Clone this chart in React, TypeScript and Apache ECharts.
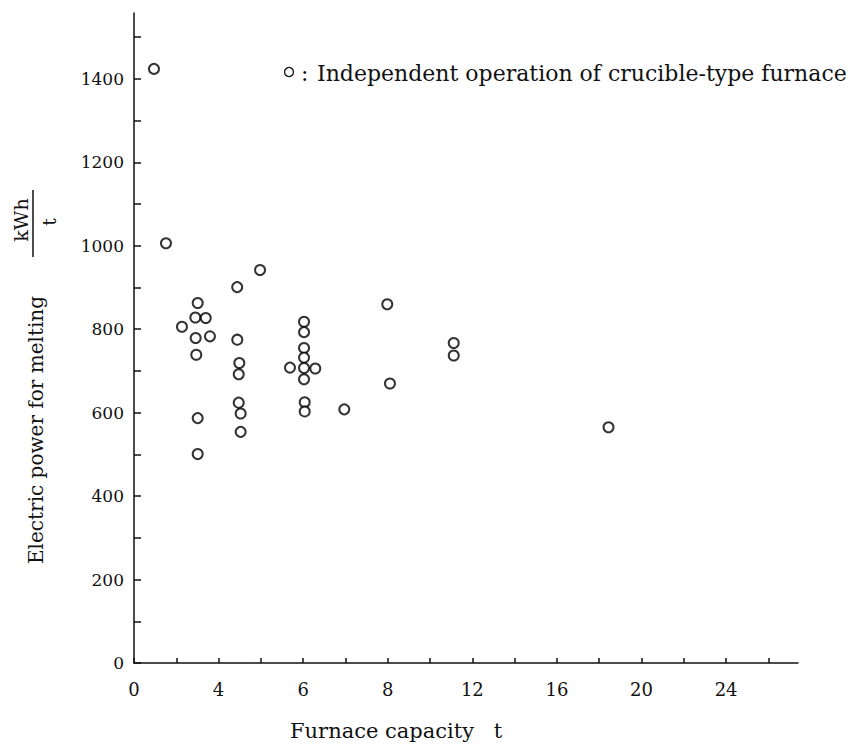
import React, { useEffect, useRef } from "react";
import * as echarts from "echarts";

// x positions are expressed in tick-label index units (0 => "0", 1 => "4", 2 => "6", ...)
const xTickLabels = ["0", "4", "6", "8", "12", "16", "20", "24"];

const capacityPos = [
  0.236, 0.378, 1.49, 1.22, 0.753, 0.725, 0.848, 0.567, 0.729, 0.898,
  0.736, 1.221, 1.245, 1.238, 1.238, 1.261, 1.261, 0.753, 0.753,
  2.01, 2.01, 2.01, 2.01, 2.01, 1.844, 2.143, 2.01, 2.018, 2.018,
  2.486, 2.994, 3.026, 3.78, 3.78, 5.61,
];
const powerValues = [
  1424, 1006, 942, 901, 863, 828, 827, 806, 779, 783,
  739, 775, 719, 692, 624, 598, 554, 587, 501,
  818, 793, 755, 732, 707, 708, 706, 680, 625, 603,
  608, 860, 670, 767, 737, 565,
];

const legendText = "Independent operation of crucible-type furnace";
const yAxisTitle = "Electric power for melting";
const xAxisTitle = "Furnace capacity";
const unitTop = "kWh";
const unitBottom = "t";

const SERIF = '"DejaVu Serif", "Liberation Serif", serif';

export default function App() {
  const ref = useRef<HTMLDivElement>(null);
  useEffect(() => {
    if (!ref.current) return;
    const chart = echarts.init(ref.current, null, { renderer: "svg" });
    const points = capacityPos.map((x, i) => [x, powerValues[i]]);
    chart.setOption({
      animation: false,
      backgroundColor: "#ffffff",
      grid: { left: 134, right: 56, top: 13, bottom: 87, containLabel: false },
      xAxis: {
        type: "value",
        min: 0,
        max: 7.85,
        interval: 0.5,
        splitLine: { show: false },
        axisLine: { lineStyle: { color: "#111", width: 1.5 } },
        axisTick: { inside: true, length: 5, lineStyle: { color: "#111", width: 1.5 } },
        axisLabel: {
          margin: 17,
          color: "#111",
          fontFamily: SERIF,
          fontSize: 18,
          showMaxLabel: false,
          formatter: (v: number) => {
            const r = Math.round(v);
            return Math.abs(v - r) < 1e-6 && xTickLabels[r] !== undefined ? xTickLabels[r] : "";
          },
        },
      },
      yAxis: {
        type: "value",
        min: 0,
        max: 1558,
        interval: 100,
        splitLine: { show: false },
        axisLine: { lineStyle: { color: "#111", width: 1.5 } },
        axisTick: { inside: true, length: 7, lineStyle: { color: "#111", width: 1.5 } },
        axisLabel: {
          margin: 10,
          color: "#111",
          fontFamily: SERIF,
          fontSize: 17,
          showMaxLabel: false,
          formatter: (v: number) => (v % 200 === 0 ? String(v) : ""),
        },
      },
      series: [
        {
          type: "scatter",
          data: points,
          symbol: "emptyCircle",
          symbolSize: 10,
          itemStyle: { color: "#000", borderColor: "#000", borderWidth: 2.2 },
        },
      ],
      graphic: [
        {
          type: "circle",
          shape: { cx: 289, cy: 72, r: 4.5 },
          style: { fill: "none", stroke: "#111", lineWidth: 1.3 },
        },
        {
          type: "text",
          x: 301,
          y: 73,
          style: { text: ":", font: "22px " + SERIF, fill: "#111", align: "left", verticalAlign: "middle" },
        },
        {
          type: "text",
          x: 317,
          y: 73,
          style: { text: legendText, font: "22px " + SERIF, fill: "#111", align: "left", verticalAlign: "middle" },
        },
        {
          type: "text",
          x: 36,
          y: 430,
          rotation: Math.PI / 2,
          style: { text: yAxisTitle, font: "20px " + SERIF, fill: "#111", align: "center", verticalAlign: "middle" },
        },
        {
          type: "text",
          x: 21,
          y: 220,
          rotation: Math.PI / 2,
          style: { text: unitTop, font: "19px " + SERIF, fill: "#111", align: "center", verticalAlign: "middle" },
        },
        {
          type: "line",
          shape: { x1: 33, y1: 190, x2: 33, y2: 257 },
          style: { stroke: "#111", lineWidth: 1.5 },
        },
        {
          type: "text",
          x: 49,
          y: 222,
          rotation: Math.PI / 2,
          style: { text: unitBottom, font: "19px " + SERIF, fill: "#111", align: "center", verticalAlign: "middle" },
        },
        {
          type: "text",
          x: 290,
          y: 731,
          style: { text: xAxisTitle, font: "21px " + SERIF, fill: "#111", align: "left", verticalAlign: "middle" },
        },
        {
          type: "text",
          x: 498,
          y: 731,
          style: { text: "t", font: "21px " + SERIF, fill: "#111", align: "center", verticalAlign: "middle" },
        },
      ],
    });
    return () => chart.dispose();
  }, []);
  return <div ref={ref} style={{ width: 854, height: 750, position: "absolute", left: 0, top: 0 }} />;
}
